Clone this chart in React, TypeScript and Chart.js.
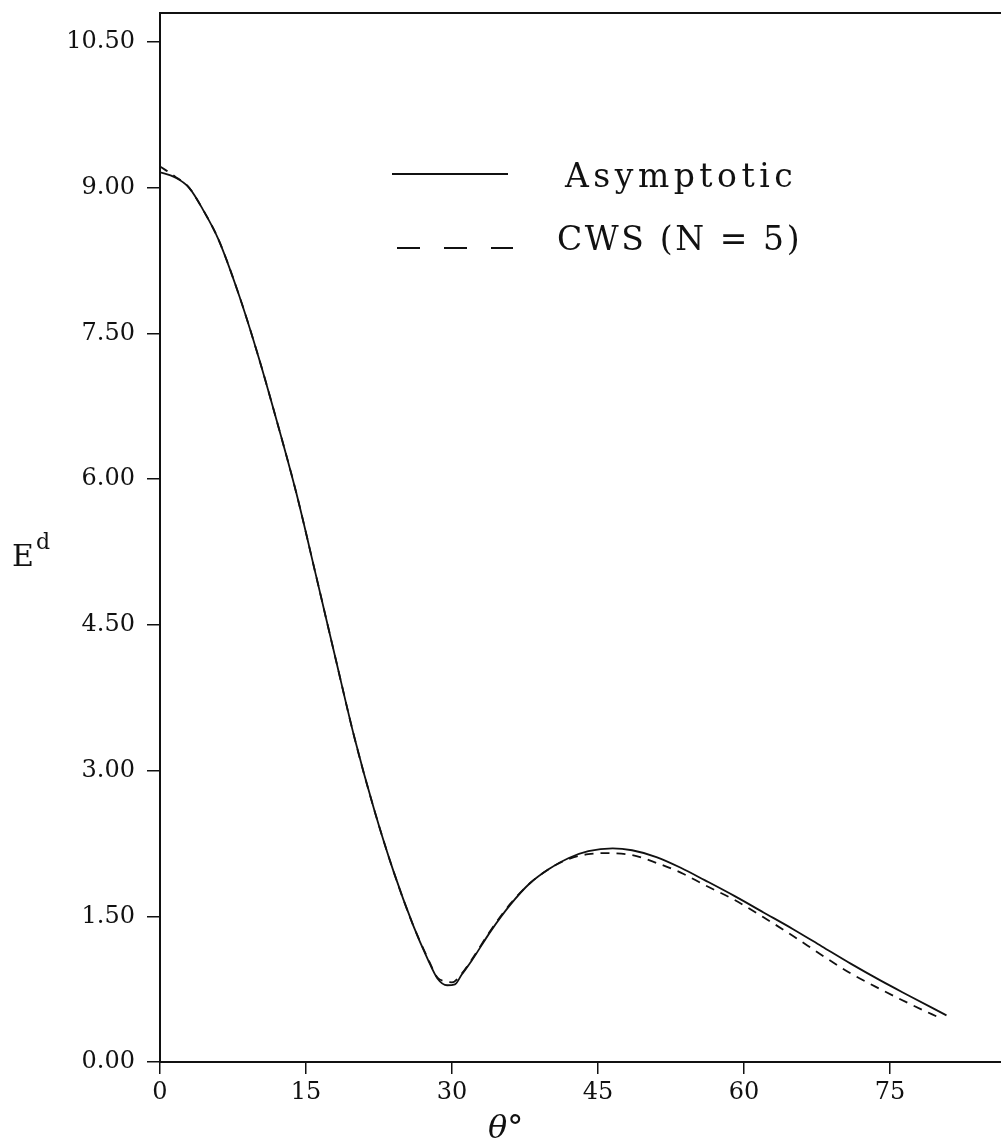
import { useEffect, useRef } from "react";
import { Chart, registerables } from "chart.js";

Chart.register(...registerables);

// Asymptotic (solid) curve
const thetaAsym = [0, 1.5, 3, 4.5, 6, 8, 10, 12, 14, 16, 18, 20, 22, 24, 26, 27.5, 28.5, 29.5, 30.3, 31, 32, 34, 36, 38, 40, 42, 44, 46.5, 48.5, 51, 53.5, 56, 59, 62, 65, 68, 71, 74, 77, 80.8];
const eAsym = [9.16, 9.11, 9.0, 8.76, 8.47, 7.93, 7.3, 6.6, 5.86, 5.02, 4.17, 3.33, 2.6, 1.96, 1.41, 1.06, 0.86, 0.79, 0.8, 0.9, 1.04, 1.35, 1.62, 1.84, 1.99, 2.1, 2.17, 2.2, 2.18, 2.11, 2.0, 1.87, 1.71, 1.54, 1.37, 1.19, 1.01, 0.84, 0.68, 0.48];

// CWS (N = 5) (dashed) curve
const thetaCws = [0, 1.5, 3, 4.5, 6, 8, 10, 12, 14, 16, 18, 20, 22, 24, 26, 27.5, 28.5, 29.3, 30, 31, 32, 34, 36, 38, 40, 42, 44, 46, 48.5, 51, 53.5, 56, 59, 62, 65, 68, 71, 74, 77, 80.4];
const eCws = [9.22, 9.12, 9.0, 8.76, 8.47, 7.93, 7.3, 6.6, 5.86, 5.02, 4.17, 3.33, 2.6, 1.96, 1.41, 1.07, 0.87, 0.83, 0.82, 0.91, 1.05, 1.36, 1.63, 1.84, 1.99, 2.09, 2.14, 2.15, 2.13, 2.05, 1.95, 1.82, 1.67, 1.49, 1.3, 1.1, 0.91, 0.75, 0.6, 0.44];

const xTicks = [0, 15, 30, 45, 60, 75];
const yTicks = [0, 1.5, 3, 4.5, 6, 7.5, 9, 10.5];
const seriesLabels = ["Asymptotic", "CWS (N = 5)"];
const xTitle = "θ°";
const yTitleMain = "E";
const yTitleSup = "d";

const INK = "#111";
const SERIF = '"DejaVu Serif", "Liberation Serif", serif';

export default function App() {
  const ref = useRef<HTMLCanvasElement | null>(null);

  useEffect(() => {
    if (!ref.current) return;

    const overlay = {
      id: "overlay",
      afterDraw(chart: any) {
        const ctx = chart.ctx as CanvasRenderingContext2D;
        const a = chart.chartArea;
        ctx.save();
        // top frame line
        ctx.strokeStyle = INK;
        ctx.lineWidth = 2;
        ctx.beginPath();
        ctx.moveTo(a.left - 1, a.top);
        ctx.lineTo(a.right + 2, a.top);
        ctx.stroke();

        // legend
        ctx.lineWidth = 2;
        ctx.setLineDash([]);
        ctx.beginPath();
        ctx.moveTo(392, 174);
        ctx.lineTo(508, 174);
        ctx.stroke();
        ctx.setLineDash([23, 24]);
        ctx.beginPath();
        ctx.moveTo(397, 248);
        ctx.lineTo(513, 248);
        ctx.stroke();
        ctx.setLineDash([]);

        ctx.fillStyle = INK;
        ctx.textBaseline = "alphabetic";
        ctx.textAlign = "left";
        ctx.font = `33px ${SERIF}`;
        (ctx as any).letterSpacing = "4.5px";
        ctx.fillText(seriesLabels[0], 565, 187);
        (ctx as any).letterSpacing = "2.6px";
        ctx.fillText(seriesLabels[1], 557, 250);
        (ctx as any).letterSpacing = "0px";

        // y title with superscript
        ctx.font = `30px ${SERIF}`;
        ctx.fillText(yTitleMain, 12, 566);
        const w = ctx.measureText(yTitleMain).width;
        ctx.font = `22px ${SERIF}`;
        ctx.fillText(yTitleSup, 12 + w + 2, 549);

        // x title
        ctx.font = `italic 32px ${SERIF}`;
        ctx.fillText(xTitle, 488, 1138);
        ctx.restore();
      },
    };

    const chart = new Chart(ref.current, {
      type: "line",
      data: {
        datasets: [
          {
            label: seriesLabels[0],
            data: thetaAsym.map((x, i) => ({ x, y: eAsym[i] })),
            borderColor: INK,
            borderWidth: 1.8,
            pointRadius: 0,
            fill: false,
            cubicInterpolationMode: "monotone",
          },
          {
            label: seriesLabels[1],
            data: thetaCws.map((x, i) => ({ x, y: eCws[i] })),
            borderColor: INK,
            borderWidth: 1.8,
            borderDash: [9, 7],
            pointRadius: 0,
            fill: false,
            cubicInterpolationMode: "monotone",
          },
        ],
      },
      options: {
        animation: false,
        responsive: false,
        devicePixelRatio: 1,
        layout: { padding: { top: 13, right: 0, left: 0, bottom: 0 } },
        plugins: { legend: { display: false }, tooltip: { enabled: false } },
        scales: {
          x: {
            type: "linear",
            min: 0,
            max: 86.4,
            afterBuildTicks: (s: any) => {
              s.ticks = xTicks.map((v) => ({ value: v }));
            },
            afterFit: (s: any) => {
              s.height = 82;
              s.paddingLeft = 0;
              s.paddingRight = 0;
            },
            grid: { drawOnChartArea: false, drawTicks: true, tickLength: 12, color: INK, lineWidth: 1.5 },
            border: { display: true, color: INK, width: 2 },
            ticks: {
              font: { family: SERIF, size: 24 },
              color: INK,
              padding: 4,
              maxRotation: 0,
              callback: (v: any) => String(v),
            },
          },
          y: {
            type: "linear",
            min: 0,
            max: 10.8,
            afterBuildTicks: (s: any) => {
              s.ticks = yTicks.map((v) => ({ value: v }));
            },
            afterFit: (s: any) => {
              s.width = 160;
              s.paddingTop = 0;
              s.paddingBottom = 0;
            },
            grid: { drawOnChartArea: false, drawTicks: true, tickLength: 13, color: INK, lineWidth: 1.5 },
            border: { display: true, color: INK, width: 2 },
            ticks: {
              font: { family: SERIF, size: 24 },
              color: INK,
              padding: 12,
              callback: (v: any) => Number(v).toFixed(2),
            },
          },
        },
      },
      plugins: [overlay],
    } as any);

    return () => chart.destroy();
  }, []);

  return (
    <div style={{ position: "absolute", left: 0, top: 0, width: 1001, height: 1144, background: "#fff" }}>
      <canvas ref={ref} width={1001} height={1144} style={{ display: "block" }} />
    </div>
  );
}
